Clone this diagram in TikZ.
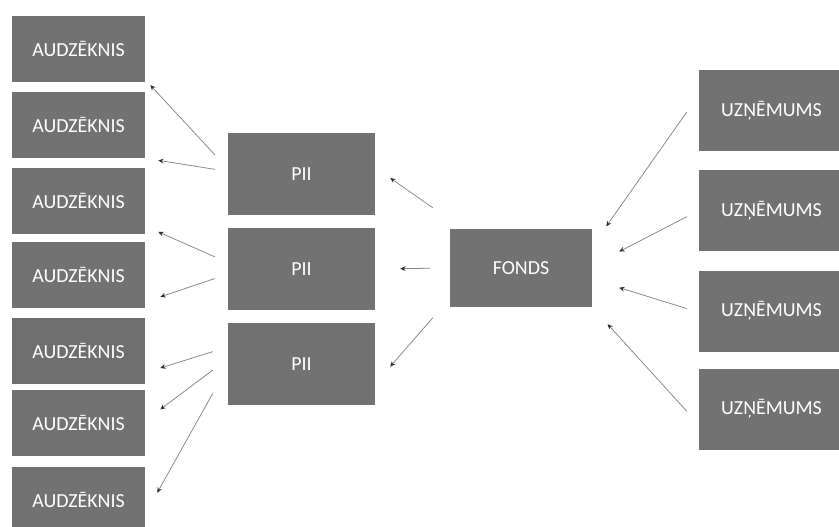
\documentclass[tikz,border=0pt]{standalone}
\usepackage{fontspec}
\setmainfont{Carlito}
\usepackage{xcolor}
\usetikzlibrary{arrows.meta}
\definecolor{boxgrey}{RGB}{114,114,114}
\definecolor{flatgrey}{RGB}{110,110,110}
\definecolor{linkgrey}{RGB}{135,135,135}
\definecolor{tipgrey}{RGB}{45,45,45}

\begin{document}
\begin{tikzpicture}[x=0.03cm,y=-0.03cm,
    box/.style={fill=boxgrey,text=white,inner sep=0pt,
        font=\fontsize{17}{20}\selectfont},
    student/.style={box,minimum width=3.99cm,minimum height=1.98cm},
    school/.style={box,minimum width=4.41cm,minimum height=2.46cm},
    firm/.style={box,minimum width=4.35cm,minimum height=2.43cm},
    link/.style={draw=linkgrey,line width=0.65pt,
        -{Stealth[length=4.5pt,width=4pt,color=tipgrey]}}]
    \useasboundingbox (0,0) rectangle (839,526);

    % Draw the students
    \foreach \i/\y in {1/48.5,2/125,3/200.5,4/275,6/423,7/500}
        \node[student] (aud\i) at (78.5,\y) {AUDZĒKNIS};
    \node[student,fill=flatgrey] (aud5) at (78.5,351) {AUDZĒKNIS};

    % Draw the schools and the fund
    \foreach \i/\y in {1/174,2/269,3/364}
        \node[school] (pii\i) at (301.5,\y) {PII};
    \node[box,minimum width=4.26cm,minimum height=2.34cm] (fonds) at (521,268) {FONDS};

    % Draw the companies
    \foreach \i/\y in {1/110.5,2/210.5,3/311,4/409}
        \node[firm] (uzn\i) at (771.5,\y) {UZŅĒMUMS};

    % Draw the arrows
    \foreach \a/\b/\s/\e in {
        pii1.176/aud1.-25/19.1/7.4,
        pii1.178/aud2.south east/13.2/13.2,
        pii2.175/aud3.-21/14.2/14.2,
        pii2.184/aud4.-22/13.8/15.9,
        pii3.167/aud5.-18/15.7/15.7,
        pii3.176/aud6.2/18.8/18.8,
        pii3.182/aud7.-12/30.7/24.6,
        fonds.146/pii1.5/36.6/18.3,
        fonds.west/pii2.east/20/25,
        fonds.-157/pii3.-15/25.8/22.8,
        uzn1.168/fonds.17/20.8/24.3,
        uzn2.180/fonds.2/13.5/30.4,
        uzn3.181/fonds.-9/12.6/28.3,
        uzn4.-168/fonds.south east/17.6/22.8}
        \draw[link,shorten <={\s*0.03cm},shorten >={\e*0.03cm}] (\a) -- (\b);
\end{tikzpicture}
\end{document}
